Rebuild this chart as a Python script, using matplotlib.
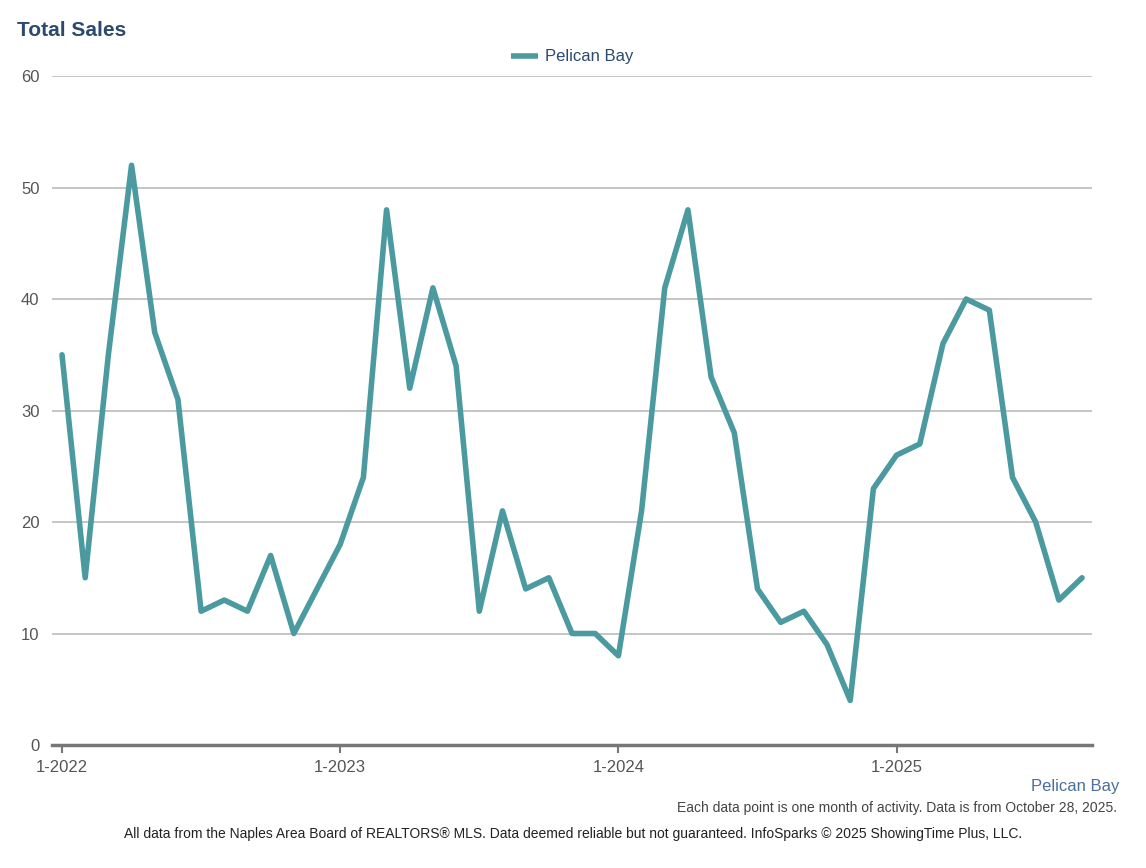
import matplotlib.pyplot as plt

# Monthly total sales, Jan 2022 - Sep 2025
months = [f"{m}-{y}" for y in range(2022, 2026) for m in range(1, 13)][:45]
sales = [35, 15, 35, 52, 37, 31, 12, 13, 12, 17, 10, 14,
         18, 24, 48, 32, 41, 34, 12, 21, 14, 15, 10, 10,
         8, 21, 41, 48, 33, 28, 14, 11, 12, 9, 4, 23,
         26, 27, 36, 40, 39, 24, 20, 13, 15]
tick_labels = ["1-2022", "1-2023", "1-2024", "1-2025"]
y_ticks = [0, 10, 20, 30, 40, 50, 60]

LINE = "#4a9aa0"
NAVY = "#2b4a6e"
GRAY = "#555555"

plt.rcParams["font.family"] = ["Liberation Sans", "DejaVu Sans"]

fig = plt.figure(figsize=(11.46, 8.68), dpi=100)
ax = fig.add_axes([0.0454, 0.1417, 0.9075, 0.7707])

x = list(range(len(sales)))
ax.plot(x, sales, color=LINE, lw=4, solid_joinstyle="round", solid_capstyle="round",
        label="Pelican Bay", zorder=3)

ax.set_xlim(-0.43, len(sales) - 1 + 0.43)
ax.set_ylim(0, 60)
ax.set_yticks(y_ticks)
ax.set_yticklabels([str(v) for v in y_ticks], color=GRAY, fontsize=12)
ax.tick_params(axis="y", length=0, pad=9)
ax.grid(axis="y", color="#bbbbbb", lw=1.2)
ax.set_axisbelow(True)

tick_pos = [months.index(t) for t in tick_labels]
ax.set_xticks(tick_pos)
ax.set_xticklabels(tick_labels, color=GRAY, fontsize=12)
ax.tick_params(axis="x", length=6, width=1.5, color="#777777", pad=5)

for s in ["top", "right", "left"]:
    ax.spines[s].set_visible(False)
ax.spines["bottom"].set_color("#777777")
ax.spines["bottom"].set_linewidth(2.5)

leg = ax.legend(loc="lower center", bbox_to_anchor=(0.5, 0.995), frameon=False,
                fontsize=12, handlelength=1.6, handletextpad=0.4)
for t in leg.get_texts():
    t.set_color(NAVY)
for h in leg.get_lines():
    h.set_solid_capstyle("butt")

fig.text(0.015, 0.965, "Total Sales", fontsize=15, fontweight="bold", color=NAVY,
         va="center", ha="left")
fig.text(0.977, 0.094, "Pelican Bay", fontsize=12, color="#4a6f9e", ha="right", va="center")
fig.text(0.975, 0.069, "Each data point is one month of activity. Data is from October 28, 2025.",
         fontsize=10, color="#444444", ha="right", va="center")
fig.text(0.5, 0.039, "All data from the Naples Area Board of REALTORS\u00ae MLS. Data deemed reliable "
         "but not guaranteed. InfoSparks \u00a9 2025 ShowingTime Plus, LLC.",
         fontsize=10, color="#222222", ha="center", va="center")

fig.savefig("out.png", dpi=100)
